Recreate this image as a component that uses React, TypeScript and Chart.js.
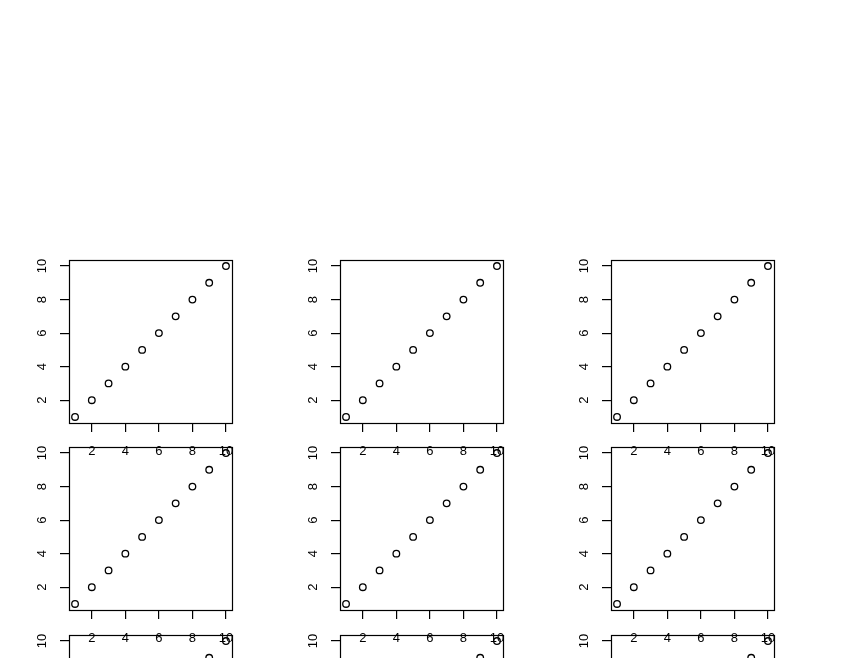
import React, { useEffect, useRef } from "react";
import { Chart, registerables } from "chart.js";

Chart.register(...registerables);

// ---- data ----
const xValues = [1, 2, 3, 4, 5, 6, 7, 8, 9, 10];
const yValues = [1, 2, 3, 4, 5, 6, 7, 8, 9, 10];
const xTicks = [2, 4, 6, 8, 10];
const yTicks = [2, 4, 6, 8, 10];
const panelRows = 3;
const panelCols = 3;

// ---- layout ----
const BOX = 163;
const COL_LEFT0 = 69;
const COL_PITCH = 271;
const ROW_TOP0 = 259.5;
const ROW_PITCH = 187.5;
const Y_AXIS_W = 44;
const X_AXIS_H = 40;
const PAD_TOP = 24;
const PAD_RIGHT = 20;
const FONT = { family: "'Liberation Sans', Arial, Helvetica, sans-serif", size: 13 };

function extRange(vals: number[]) {
  const mn = Math.min(...vals);
  const mx = Math.max(...vals);
  const d = (mx - mn) * 0.04;
  return [mn - d, mx + d];
}

const boxPlugin = {
  id: "rbox",
  afterDraw(chart: any) {
    const { ctx, chartArea } = chart;
    const l = Math.round(chartArea.left) + 0.5;
    const t = Math.round(chartArea.top) + 0.5;
    const r = Math.round(chartArea.right) + 0.5;
    const b = Math.round(chartArea.bottom) + 0.5;
    ctx.save();
    ctx.strokeStyle = "#000";
    ctx.lineWidth = 1.2;
    ctx.strokeRect(l, t, r - l, b - t);
    ctx.restore();
  },
};

function Panel({ left, top }: { left: number; top: number }) {
  const ref = useRef<HTMLCanvasElement | null>(null);
  useEffect(() => {
    if (!ref.current) return;
    const [xmin, xmax] = extRange(xValues);
    const [ymin, ymax] = extRange(yValues);
    const chart = new Chart(ref.current, {
      type: "scatter",
      data: {
        datasets: [
          {
            data: xValues.map((x, i) => ({ x, y: yValues[i] })),
            pointStyle: "circle",
            pointRadius: 3.3,
            pointHoverRadius: 3.3,
            borderWidth: 1.3,
            borderColor: "#000",
            backgroundColor: "rgba(0,0,0,0)",
            showLine: false,
          },
        ],
      },
      options: {
        animation: false,
        responsive: false,
        devicePixelRatio: 1,
        events: [],
        layout: { padding: { top: PAD_TOP, right: PAD_RIGHT, left: 0, bottom: 0 } },
        plugins: { legend: { display: false }, tooltip: { enabled: false }, title: { display: false } },
        scales: {
          x: {
            type: "linear",
            min: xmin,
            max: xmax,
            afterBuildTicks: (s: any) => {
              s.ticks = xTicks.map((v) => ({ value: v }));
            },
            afterFit: (s: any) => {
              s.height = X_AXIS_H;
            },
            grid: { display: true, drawOnChartArea: false, drawTicks: true, tickLength: 9, color: "#000", lineWidth: 1.2 },
            border: { display: false },
            ticks: {
              color: "#000",
              font: FONT,
              padding: 12,
              maxRotation: 0,
              minRotation: 0,
              autoSkip: false,
              callback: (v: any) => String(v),
            },
          },
          y: {
            type: "linear",
            min: ymin,
            max: ymax,
            afterBuildTicks: (s: any) => {
              s.ticks = yTicks.map((v) => ({ value: v }));
            },
            afterFit: (s: any) => {
              s.width = Y_AXIS_W;
            },
            grid: { display: true, drawOnChartArea: false, drawTicks: true, tickLength: 9, color: "#000", lineWidth: 1.2 },
            border: { display: false },
            ticks: {
              color: "#000",
              font: FONT,
              padding: 10,
              minRotation: 90,
              maxRotation: 90,
              crossAlign: "center",
              autoSkip: false,
              callback: (v: any) => String(v),
            },
          },
        },
      },
      plugins: [boxPlugin],
    } as any);
    return () => chart.destroy();
  }, []);
  const w = Y_AXIS_W + BOX + PAD_RIGHT;
  const h = PAD_TOP + BOX + X_AXIS_H;
  return (
    <canvas
      ref={ref}
      width={w}
      height={h}
      style={{ position: "absolute", left: left - Y_AXIS_W, top: top - PAD_TOP, width: w, height: h }}
    />
  );
}

export default function App() {
  const panels: { left: number; top: number; key: string }[] = [];
  for (let r = 0; r < panelRows; r++) {
    for (let c = 0; c < panelCols; c++) {
      panels.push({
        left: COL_LEFT0 + c * COL_PITCH,
        top: Math.round(ROW_TOP0 + r * ROW_PITCH),
        key: `${r}-${c}`,
      });
    }
  }
  return (
    <div
      style={{
        position: "fixed",
        left: 0,
        top: 0,
        width: 846,
        height: 658,
        overflow: "hidden",
        background: "#fff",
      }}
    >
      {panels.map((p) => (
        <Panel key={p.key} left={p.left} top={p.top} />
      ))}
    </div>
  );
}
